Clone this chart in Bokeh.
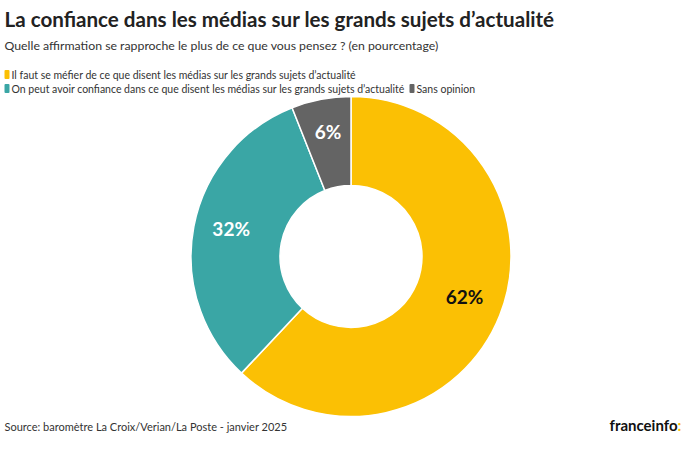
import numpy as np
from bokeh.plotting import figure
from bokeh.models import Range1d
from bokeh.core.properties import value
from bokeh.embed import file_html
from bokeh.resources import INLINE

title = "La confiance dans les médias sur les grands sujets d\u2019actualité"
subtitle = "Quelle affirmation se rapproche le plus de ce que vous pensez ? (en pourcentage)"
categories = [
    "Il faut se méfier de ce que disent les médias sur les grands sujets d\u2019actualité",
    "On peut avoir confiance dans ce que disent les médias sur les grands sujets d\u2019actualité",
    "Sans opinion",
]
values = [62, 32, 6]
colors = ["#FBC004", "#3AA6A5", "#646464"]
label_colors = ["#111111", "white", "white"]
source_text = "Source: baromètre La Croix/Verian/La Poste - janvier 2025"

W, H = 684, 434
FONT = "Lato"

p = figure(width=W, height=H, output_backend="svg", toolbar_location=None,
           x_range=Range1d(0, W), y_range=Range1d(0, H), min_border=0,
           background_fill_color="white", border_fill_color="white")
p.axis.visible = False
p.grid.visible = False
p.outline_line_color = None

def X(sx):
    return sx

def Y(sy):
    return H - sy

# donut
cx, cy = X(350.5), Y(256)
r_out, r_in = 160, 71
fr = np.array(values) / sum(values)
cum = np.concatenate([[0], np.cumsum(fr)])
start = np.pi / 2 - cum[:-1] * 2 * np.pi
end = np.pi / 2 - cum[1:] * 2 * np.pi
p.annular_wedge(x=[cx] * 3, y=[cy] * 3, inner_radius=r_in, outer_radius=r_out,
                inner_radius_units="screen", outer_radius_units="screen",
                start_angle=start, end_angle=end, direction="clock",
                fill_color=colors, line_color="white", line_width=1.5)

mid = np.pi / 2 - (cum[:-1] + fr / 2) * 2 * np.pi
rl = 122
lx = cx + rl * np.cos(mid)
ly = cy + rl * np.sin(mid) + 5
p.text(x=lx, y=ly, text=[f"{v}%" for v in values], text_color=label_colors,
       text_font=value(FONT), text_font_style="bold", text_font_size="19px",
       text_align="center", text_baseline="middle")

# title & subtitle
p.text(x=[X(4)], y=[Y(18)], text=[title], text_font=value(FONT), text_font_style="bold",
       text_font_size="20.6px", text_color="#222222", text_baseline="middle")
p.text(x=[X(4)], y=[Y(45)], text=[subtitle], text_font=value(FONT),
       text_font_size="12.3px", text_color="#333333", text_baseline="middle")

# legend
lg_x = [X(4), X(4), X(409)]
lg_y = [Y(74), Y(88), Y(88)]
p.rect(x=[v + 2.5 for v in lg_x], y=lg_y, width=5, height=9, fill_color=colors,
       line_color=None, border_radius=1)
p.text(x=[v + 7 for v in lg_x], y=lg_y, text=categories, text_font=value(FONT),
       text_font_size="10.5px", text_color="#333333", text_baseline="middle")

# source & logo
p.text(x=[X(4)], y=[Y(426)], text=[source_text], text_font=value(FONT),
       text_font_size="11px", text_color="#333333", text_baseline="middle")
p.text(x=[X(677)], y=[Y(424)], text=["franceinfo"], text_font=value(FONT),
       text_font_style="bold", text_font_size="15px", text_color="#111111",
       text_align="right", text_baseline="middle")
p.text(x=[X(677)], y=[Y(424)], text=[":"], text_font=value(FONT),
       text_font_style="bold", text_font_size="15px", text_color="#FBC004",
       text_align="left", text_baseline="middle")

open("out.html", "w").write(file_html(p, INLINE))
